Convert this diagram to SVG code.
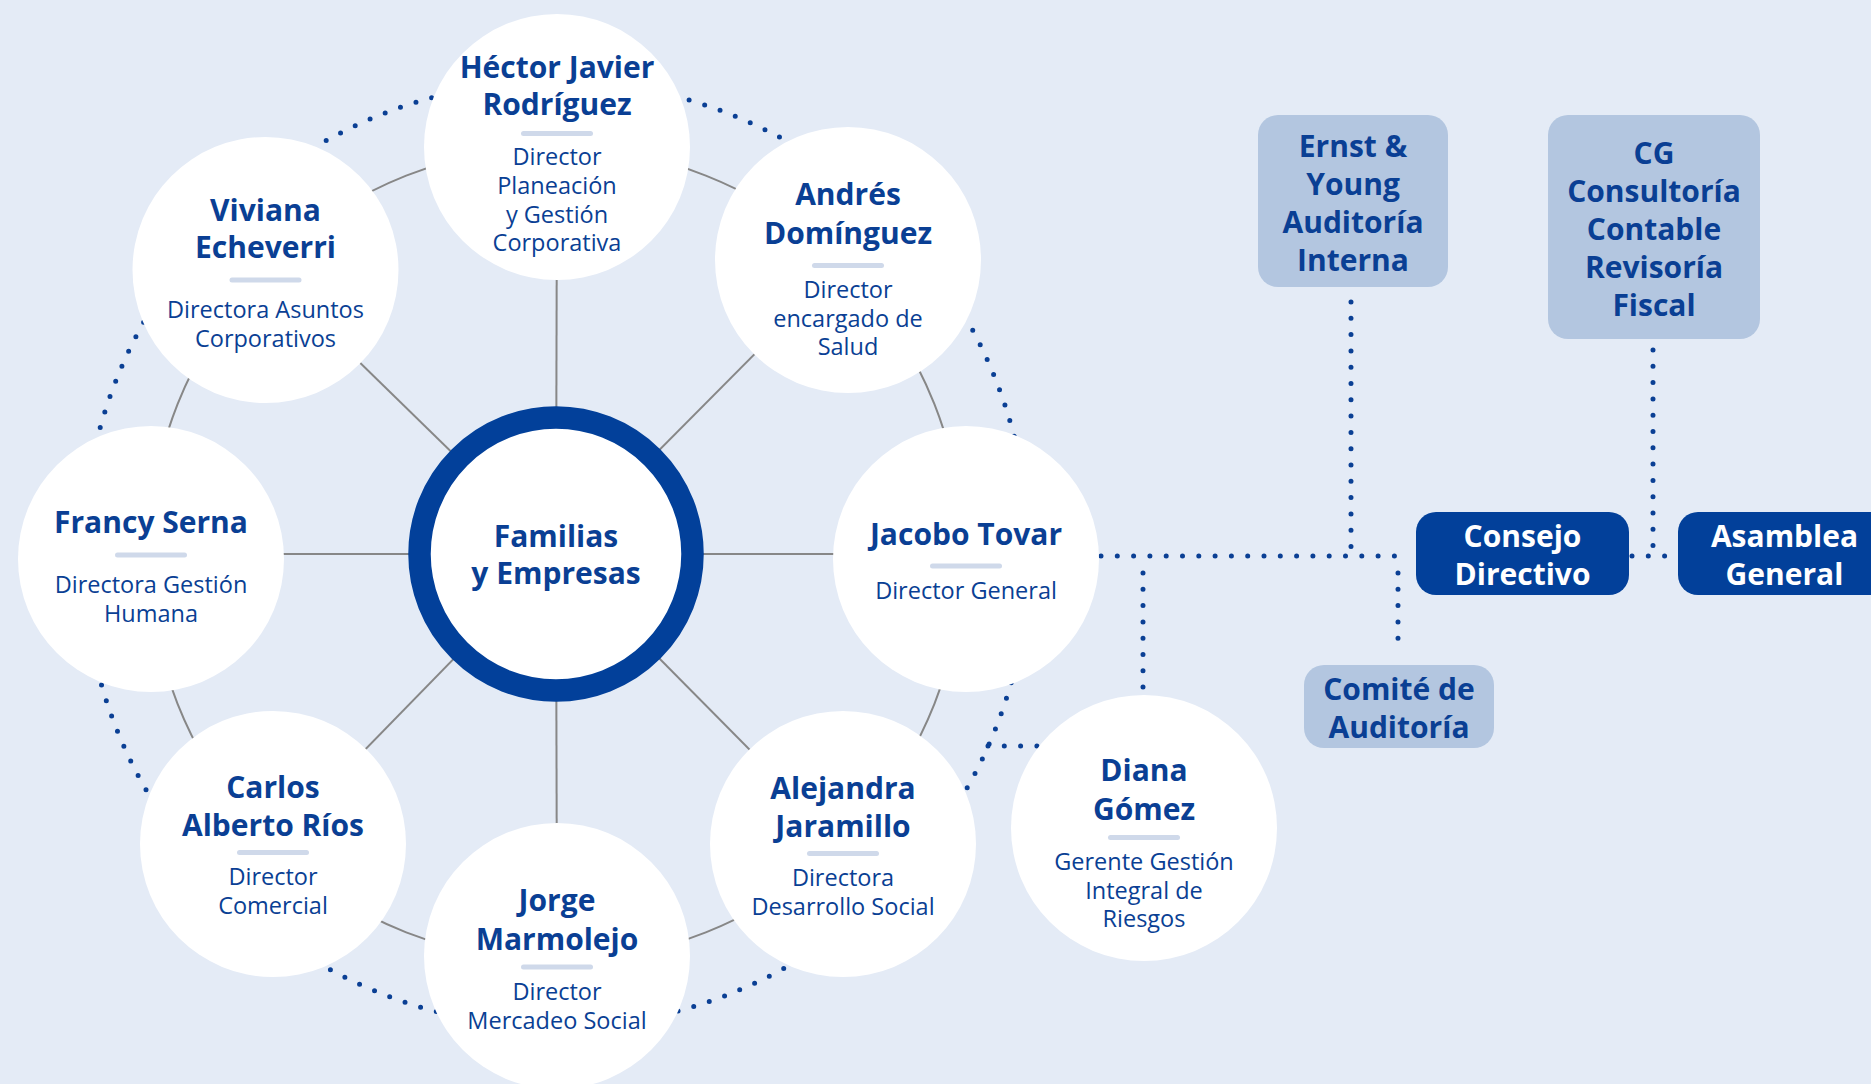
<svg xmlns="http://www.w3.org/2000/svg" width="1871" height="1084" viewBox="0 0 1871 1084">
<style>
.bg{fill:#e4ebf6}
.gray{fill:none;stroke:#878787;stroke-width:2}
.dots{fill:none;stroke:#0a3f94;stroke-width:5;stroke-linecap:round;stroke-dasharray:0 16.3}
.sat{fill:#ffffff}
.bar{fill:#cfd9ea}
.name{font-family:"Open Sans","Liberation Sans",sans-serif;font-weight:700;font-size:30px;fill:#0a3f94;text-anchor:middle}
.title{font-family:"Open Sans","Liberation Sans",sans-serif;font-weight:400;font-size:23.5px;fill:#0a3f94;text-anchor:middle}
.lbox{fill:#b3c6e0}
.dbox{fill:#02409a}
.btxt{font-family:"Open Sans","Liberation Sans",sans-serif;font-weight:700;font-size:30px;fill:#0a3f94;text-anchor:middle}
.wtxt{font-family:"Open Sans","Liberation Sans",sans-serif;font-weight:700;font-size:30px;fill:#ffffff;text-anchor:middle}
</style>
<rect class="bg" x="0" y="0" width="1871" height="1084"/>
<g id="connectors">
  <circle class="gray" cx="556" cy="554" r="407"/>
  <line class="gray" x1="556" y1="554" x2="557" y2="147"/>
  <line class="gray" x1="556" y1="554" x2="848" y2="260"/>
  <line class="gray" x1="556" y1="554" x2="966" y2="554"/>
  <line class="gray" x1="556" y1="554" x2="843" y2="844"/>
  <line class="gray" x1="556" y1="554" x2="557" y2="956"/>
  <line class="gray" x1="556" y1="554" x2="273" y2="844"/>
  <line class="gray" x1="556" y1="554" x2="151" y2="554"/>
  <line class="gray" x1="556" y1="554" x2="265" y2="270"/>
  <circle class="dots" cx="556" cy="554" r="473"/>
  <path class="dots" d="M988 746 H1040"/>
  <path class="dots" d="M1101 556 H1408"/>
  <path class="dots" d="M1351 302 V556"/>
  <path class="dots" d="M1398 573 V650"/>
  <path class="dots" d="M1143 573 V690"/>
  <path class="dots" d="M1653 350 V556"/>
  <path class="dots" d="M1632 556 H1670"/>
</g>
<g id="center">
  <circle cx="556" cy="554" r="136.5" fill="#ffffff" stroke="#02409a" stroke-width="22.5"/>
  <text class="name" x="556" y="546.5">Familias</text>
  <text class="name" x="556" y="584">y Empresas</text>
</g>
<g id="hector">
  <circle class="sat" cx="557" cy="147" r="133"/>
  <text class="name" x="557" y="78">Héctor Javier</text>
  <text class="name" x="557" y="115">Rodríguez</text>
  <rect class="bar" x="521" y="131" width="72" height="5" rx="2.5"/>
  <text class="title" x="557" y="165">Director</text>
  <text class="title" x="557" y="194">Planeación</text>
  <text class="title" x="557" y="222.5">y Gestión</text>
  <text class="title" x="557" y="251">Corporativa</text>
</g>
<g id="viviana">
  <circle class="sat" cx="265.5" cy="270" r="133"/>
  <text class="name" x="265.5" y="220.5">Viviana</text>
  <text class="name" x="265.5" y="258">Echeverri</text>
  <rect class="bar" x="229.5" y="277.5" width="72" height="5" rx="2.5"/>
  <text class="title" x="265.5" y="318">Directora Asuntos</text>
  <text class="title" x="265.5" y="346.5">Corporativos</text>
</g>
<g id="andres">
  <circle class="sat" cx="848" cy="260" r="133"/>
  <text class="name" x="848" y="205">Andrés</text>
  <text class="name" x="848" y="244">Domínguez</text>
  <rect class="bar" x="812" y="263" width="72" height="5" rx="2.5"/>
  <text class="title" x="848" y="298">Director</text>
  <text class="title" x="848" y="326.5">encargado de</text>
  <text class="title" x="848" y="355">Salud</text>
</g>
<g id="francy">
  <circle class="sat" cx="151" cy="559" r="133"/>
  <text class="name" x="151" y="532.5">Francy Serna</text>
  <rect class="bar" x="115" y="552.5" width="72" height="5" rx="2.5"/>
  <text class="title" x="151" y="593">Directora Gestión</text>
  <text class="title" x="151" y="622">Humana</text>
</g>
<g id="jacobo">
  <circle class="sat" cx="966" cy="559" r="133"/>
  <text class="name" x="966" y="545">Jacobo Tovar</text>
  <rect class="bar" x="930" y="563.5" width="72" height="5" rx="2.5"/>
  <text class="title" x="966" y="598.5">Director General</text>
</g>
<g id="carlos">
  <circle class="sat" cx="273" cy="844" r="133"/>
  <text class="name" x="273" y="797.5">Carlos</text>
  <text class="name" x="273" y="836">Alberto Ríos</text>
  <rect class="bar" x="237" y="850" width="72" height="5" rx="2.5"/>
  <text class="title" x="273" y="885">Director</text>
  <text class="title" x="273" y="913.5">Comercial</text>
</g>
<g id="alejandra">
  <circle class="sat" cx="843" cy="844" r="133"/>
  <text class="name" x="843" y="799">Alejandra</text>
  <text class="name" x="843" y="837">Jaramillo</text>
  <rect class="bar" x="807" y="851" width="72" height="5" rx="2.5"/>
  <text class="title" x="843" y="886">Directora</text>
  <text class="title" x="843" y="915">Desarrollo Social</text>
</g>
<g id="jorge">
  <circle class="sat" cx="557" cy="956" r="133"/>
  <text class="name" x="557" y="911">Jorge</text>
  <text class="name" x="557" y="950">Marmolejo</text>
  <rect class="bar" x="521" y="964.5" width="72" height="5" rx="2.5"/>
  <text class="title" x="557" y="999.5">Director</text>
  <text class="title" x="557" y="1028.5">Mercadeo Social</text>
</g>
<g id="diana">
  <circle class="sat" cx="1144" cy="828" r="133"/>
  <text class="name" x="1144" y="781">Diana</text>
  <text class="name" x="1144" y="820">Gómez</text>
  <rect class="bar" x="1108" y="835" width="72" height="5" rx="2.5"/>
  <text class="title" x="1144" y="869.5">Gerente Gestión</text>
  <text class="title" x="1144" y="898.5">Integral de</text>
  <text class="title" x="1144" y="927">Riesgos</text>
</g>
<g id="ernst">
  <rect class="lbox" x="1258" y="115" width="190" height="172" rx="20"/>
  <text class="btxt" x="1353" y="157">Ernst &amp;</text>
  <text class="btxt" x="1353" y="195">Young</text>
  <text class="btxt" x="1353" y="233">Auditoría</text>
  <text class="btxt" x="1353" y="271">Interna</text>
</g>
<g id="cg">
  <rect class="lbox" x="1548" y="115" width="212" height="224" rx="20"/>
  <text class="btxt" x="1654" y="163.5">CG</text>
  <text class="btxt" x="1654" y="201.5">Consultoría</text>
  <text class="btxt" x="1654" y="240">Contable</text>
  <text class="btxt" x="1654" y="278">Revisoría</text>
  <text class="btxt" x="1654" y="316">Fiscal</text>
</g>
<g id="consejo">
  <rect class="dbox" x="1416" y="512" width="213" height="83" rx="20"/>
  <text class="wtxt" x="1522.5" y="546.5">Consejo</text>
  <text class="wtxt" x="1522.5" y="584.5">Directivo</text>
</g>
<g id="asamblea">
  <rect class="dbox" x="1678" y="512" width="230" height="83" rx="20"/>
  <text class="wtxt" x="1784.5" y="546.5">Asamblea</text>
  <text class="wtxt" x="1784.5" y="584.5">General</text>
</g>
<g id="comite">
  <rect class="lbox" x="1304" y="665" width="190" height="83" rx="20"/>
  <text class="btxt" x="1399" y="700">Comité de</text>
  <text class="btxt" x="1399" y="738">Auditoría</text>
</g>
</svg>
